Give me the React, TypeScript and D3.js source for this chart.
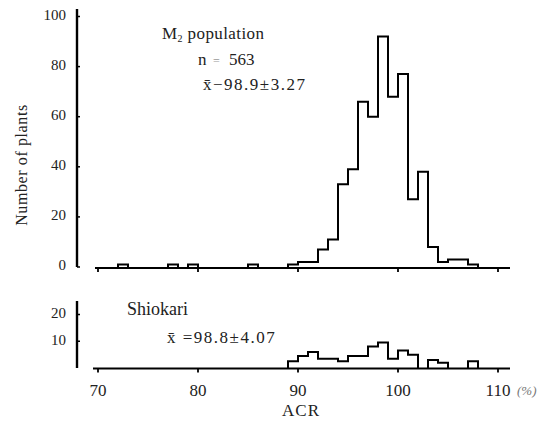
import React from "react";
import * as d3 from "d3";

// ACR bins (lower edge, width 1) and plant counts
const m2Bins = [72, 77, 79, 85, 89, 90, 91, 92, 93, 94, 95, 96, 97, 98, 99, 100, 101, 102, 103, 104, 105, 106, 107];
const m2Counts = [1, 1, 1, 1, 1, 2, 2, 7, 11, 33, 39, 66, 60, 92, 68, 77, 27, 38, 8, 2, 3, 3, 1];

const shioBins = [89, 90, 91, 92, 93, 94, 95, 96, 97, 98, 99, 100, 101, 103, 104, 107];
const shioCounts = [2.5, 4.5, 6, 3.5, 3.5, 2.5, 4.5, 4.5, 8, 9.5, 3.5, 6.5, 5, 3, 2, 2.5];

const xTicks = [70, 80, 90, 100, 110];
const topYTicks = [0, 20, 40, 60, 80, 100];
const bottomYTicks = [10, 20];

const FONT = "'Liberation Serif', 'DejaVu Serif', serif";

function stepPath(bins: number[], counts: number[], x: d3.ScaleLinear<number, number>, y: d3.ScaleLinear<number, number>) {
  const runs: { b: number; c: number }[][] = [];
  bins.forEach((b, i) => {
    const last = runs[runs.length - 1];
    if (last && last[last.length - 1].b + 1 === b) last.push({ b, c: counts[i] });
    else runs.push([{ b, c: counts[i] }]);
  });
  const p = d3.path();
  runs.forEach((run) => {
    p.moveTo(x(run[0].b), y(0));
    run.forEach(({ b, c }) => {
      p.lineTo(x(b), y(c));
      p.lineTo(x(b + 1), y(c));
    });
    p.lineTo(x(run[run.length - 1].b + 1), y(0));
  });
  return p.toString();
}

export default function App() {
  const x = d3.scaleLinear().domain([70, 110]).range([98, 498]);
  const yTop = d3.scaleLinear().domain([0, 100]).range([267, 16.5]);
  const yBot = d3.scaleLinear().domain([0, 20]).range([368, 314.5]);
  const axisX = 77;
  const topBase = 268;
  const botBase = 368.5;

  return (
    <svg width={543} height={424} style={{ position: "absolute", left: 0, top: 0, background: "#fff" }} fontFamily={FONT}>
      <line x1={axisX} x2={axisX} y1={9} y2={267} stroke="#000" strokeWidth={2.4} />
      {topYTicks.map((t) => (
        <g key={"ty" + t}>
          <line x1={axisX} x2={axisX + 3} y1={yTop(t)} y2={yTop(t)} stroke="#000" strokeWidth={1.5} />
          <text x={66} y={yTop(t)} textAnchor="end" dominantBaseline="middle" fontSize={15} fill="#222">{t}</text>
        </g>
      ))}
      <line x1={95} x2={510} y1={topBase} y2={topBase} stroke="#000" strokeWidth={2.2} />
      {xTicks.map((t) => (
        <line key={"tx" + t} x1={x(t)} x2={x(t)} y1={topBase} y2={topBase + 4} stroke="#000" strokeWidth={1.8} />
      ))}
      <path d={stepPath(m2Bins, m2Counts, x, yTop)} fill="none" stroke="#000" strokeWidth={2} />

      <line x1={axisX} x2={axisX} y1={301} y2={368} stroke="#000" strokeWidth={2.4} />
      {bottomYTicks.map((t) => (
        <g key={"by" + t}>
          <line x1={axisX} x2={axisX + 3} y1={yBot(t)} y2={yBot(t)} stroke="#000" strokeWidth={1.5} />
          <text x={66} y={yBot(t)} textAnchor="end" dominantBaseline="middle" fontSize={15} fill="#222">{t}</text>
        </g>
      ))}
      <line x1={93} x2={510} y1={botBase} y2={botBase} stroke="#000" strokeWidth={2.2} />
      {xTicks.map((t) => (
        <line key={"bx" + t} x1={x(t)} x2={x(t)} y1={botBase} y2={botBase + 4} stroke="#000" strokeWidth={1.8} />
      ))}
      <path d={stepPath(shioBins, shioCounts, x, yBot)} fill="none" stroke="#000" strokeWidth={2} />

      {xTicks.map((t) => (
        <text key={"xl" + t} x={x(t)} y={396} textAnchor="middle" fontSize={17} fill="#222">{t}</text>
      ))}
      <text x={517} y={395} fontSize={13} fill="#777" fontStyle="italic">(%)</text>
      <text x={301} y={416} textAnchor="middle" fontSize={17} fill="#222" letterSpacing={1}>ACR</text>

      <text transform="translate(27,165) rotate(-90)" textAnchor="middle" fontSize={16} fill="#222" letterSpacing={0.6}>Number of plants</text>

      <text x={162} y={39} fontSize={17} fill="#222" letterSpacing={0.4}>
        M<tspan fontSize={10} dy={3}>2</tspan><tspan dy={-3}> population</tspan>
      </text>
      <text x={198} y={65} fontSize={17} fill="#222">
        n<tspan x={213} fill="#999" fontSize={12}>=</tspan><tspan x={229}>563</tspan>
      </text>
      <text x={203} y={90} fontSize={17} fill="#222" letterSpacing={1.5}>x̄−98.9±3.27</text>
      <text x={127} y={315} fontSize={18} fill="#222">Shiokari</text>
      <text x={167} y={343} fontSize={17} fill="#222" letterSpacing={1.5}>x̄ =98.8±4.07</text>
    </svg>
  );
}
